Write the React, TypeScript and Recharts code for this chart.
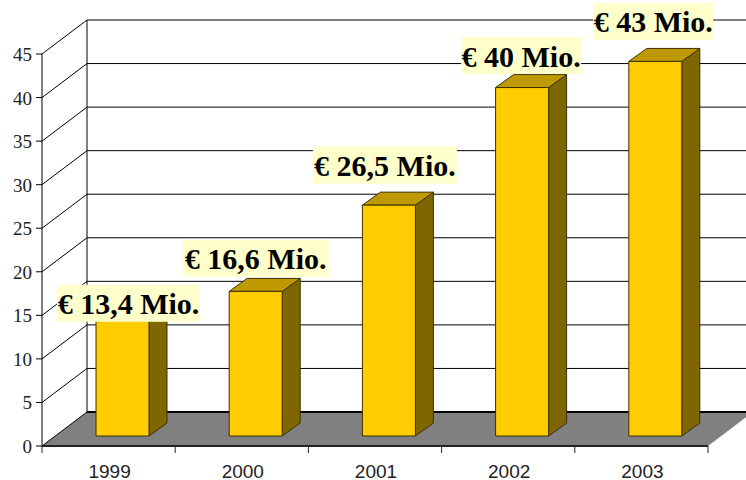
import React from 'react';
import { BarChart, Bar, XAxis, YAxis, CartesianGrid, LabelList } from 'recharts';

const years = ['1999', '2000', '2001', '2002', '2003'];
const revenue = [13.4, 16.6, 26.5, 40, 43];
const revenueLabels = ['€ 13,4 Mio.', '€ 16,6 Mio.', '€ 26,5 Mio.', '€ 40 Mio.', '€ 43 Mio.'];
const yTicks = [0, 5, 10, 15, 20, 25, 30, 35, 40, 45];

const data = years.map((year, i) => ({ year, revenue: revenue[i], label: revenueLabels[i] }));

// layout of the fake 3D box, in px
const WIDTH = 746;
const HEIGHT = 480;
const MARGIN = { top: 54, right: 38, bottom: 0, left: 0 };
const Y_AXIS_W = 42;
const X_AXIS_H = 34;
const WALL_DX = 45;
const WALL_DY = -34;
const BAR_SHIFT_X = 14;
const BAR_SHIFT_Y = -10;
const BAR_DX = 18;
const BAR_DY = -13;
const STEP = (WIDTH - MARGIN.right - Y_AXIS_W) / years.length;

// label box placement relative to the category centre / bar top
const labelPlacement = [
  { dx: 20, dy: -16, w: 143 },
  { dx: 14, dy: -33, w: 146 },
  { dx: 10, dy: -40, w: 144 },
  { dx: 13, dy: -32, w: 120 },
  { dx: 12, dy: -40, w: 120 },
];

const GridLine = (props: any) => {
  const { x1, x2, y1, y } = props;
  const isFloor = Math.abs(y1 - (y + props.height)) < 0.5;
  const isTop = Math.abs(y1 - y) < 0.5;
  const backY = y1 + WALL_DY;
  return (
    <g>
      {isFloor && (
        <polygon
          points={`${x1},${y1} ${x1 + WALL_DX},${backY} ${x2 + WALL_DX},${backY} ${x2},${y1}`}
          fill="#808080"
        />
      )}
      {isTop && <line x1={x1 + WALL_DX} x2={x1 + WALL_DX} y1={backY} y2={y + props.height + WALL_DY} stroke="#000" />}
      <line x1={x1} y1={y1} x2={x1 + WALL_DX} y2={backY} stroke="#000" />
      <line
        x1={x1 + WALL_DX}
        y1={backY}
        x2={x2 + WALL_DX}
        y2={backY}
        stroke="#000"
        strokeWidth={isFloor ? 2 : 1}
      />
    </g>
  );
};

const Box3D = (props: any) => {
  const { x, y, width, height } = props;
  const l = x + BAR_SHIFT_X;
  const r = l + width;
  const t = y + BAR_SHIFT_Y;
  const b = t + height;
  const line = { stroke: '#3a3000', strokeWidth: 1, strokeLinejoin: 'round' as const };
  return (
    <g>
      <polygon
        points={`${r},${t} ${r + BAR_DX},${t + BAR_DY} ${r + BAR_DX},${b + BAR_DY} ${r},${b}`}
        fill="#806600"
        {...line}
      />
      <polygon
        points={`${l},${t} ${l + BAR_DX},${t + BAR_DY} ${r + BAR_DX},${t + BAR_DY} ${r},${t}`}
        fill="#BF9900"
        {...line}
      />
      <rect x={l} y={t} width={width} height={height} fill="#FFCC00" {...line} />
    </g>
  );
};

const ValueLabel = (props: any) => {
  const { x, y, width, index, value } = props;
  const place = labelPlacement[index];
  const cx = x + width / 2 + place.dx;
  const cy = y + BAR_SHIFT_Y + place.dy;
  return (
    <g>
      <rect x={cx - place.w / 2} y={cy - 18.5} width={place.w} height={37} fill="#FFFFCC" />
      <text
        x={cx}
        y={cy + 11}
        textAnchor="middle"
        fontFamily="'Liberation Serif', serif"
        fontWeight="bold"
        fontSize={30}
        fill="#000"
      >
        {value}
      </text>
    </g>
  );
};

// ticks sit on the category boundaries, not the centres
const YearTick = (props: any) => {
  const { x, y, payload, index } = props;
  const top = y - 8;
  return (
    <g>
      <line x1={x - STEP / 2} x2={x - STEP / 2} y1={top} y2={top + 7} stroke="#222" />
      {index === years.length - 1 && (
        <line x1={x + STEP / 2} x2={x + STEP / 2} y1={top} y2={top + 7} stroke="#222" />
      )}
      <text x={x + 1} y={478} textAnchor="middle" fontFamily="'Liberation Sans', sans-serif" fontSize={19} fill="#222">
        {payload.value}
      </text>
    </g>
  );
};

const ValueTick = (props: any) => {
  const { x, y, payload } = props;
  return (
    <text x={x} y={y + 7} textAnchor="end" fontFamily="'Liberation Serif', serif" fontSize={19} fill="#222">
      {payload.value}
    </text>
  );
};

export default function App() {
  return (
    <div style={{ position: 'absolute', left: 0, top: 0, width: WIDTH, height: HEIGHT, background: '#fff' }}>
      <BarChart width={WIDTH} height={HEIGHT} data={data} margin={MARGIN} barSize={53}>
        <CartesianGrid vertical={false} syncWithTicks horizontal={(p: any) => <GridLine key={p.key} {...p} />} />
        <XAxis
          dataKey="year"
          height={X_AXIS_H}
          interval={0}
          axisLine={{ stroke: '#222', strokeWidth: 2 }}
          tickLine={false}
          tick={YearTick}
        />
        <YAxis
          width={Y_AXIS_W}
          domain={[0, 45]}
          ticks={yTicks}
          interval={0}
          tickSize={6}
          tickMargin={4}
          axisLine={{ stroke: '#000' }}
          tickLine={{ stroke: '#000' }}
          tick={ValueTick}
        />
        <Bar dataKey="revenue" isAnimationActive={false} shape={Box3D}>
          <LabelList dataKey="label" content={ValueLabel} />
        </Bar>
      </BarChart>
    </div>
  );
}
